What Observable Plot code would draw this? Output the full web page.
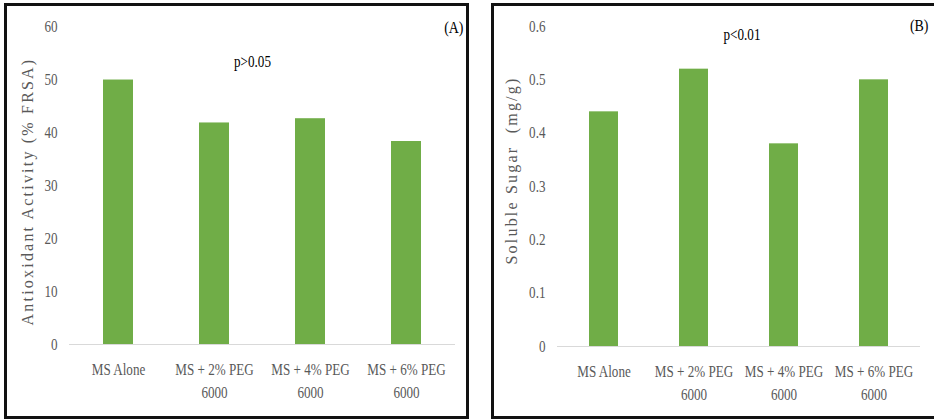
<!DOCTYPE html>
<html>
<head>
<meta charset="utf-8">
<script src="https://cdn.jsdelivr.net/npm/d3@7"></script>
<script src="https://cdn.jsdelivr.net/npm/@observablehq/plot@0.6"></script>
<style>
  html, body { margin: 0; padding: 0; background: #fff; }
  #wrap { position: relative; width: 934px; height: 419px; overflow: hidden; background: #fff; }
  .panel { position: absolute; border: 3px solid #111; box-sizing: content-box; }
  .panel svg { display: block; }
  .panel svg text { font-family: "Liberation Serif", "Times New Roman", serif; }
</style>
</head>
<body>
<div id="wrap">
  <div class="panel" id="pa" style="left:4px; top:3px; width:459px; height:410px;"></div>
  <div class="panel" id="pb" style="left:491px; top:3px; width:445px; height:410px;"></div>
</div>
<script>
const categories = ["MS Alone", "MS + 2% PEG 6000", "MS + 4% PEG 6000", "MS + 6% PEG 6000"];
const categoryLabels = ["MS Alone", "MS + 2% PEG\n6000", "MS + 4% PEG\n6000", "MS + 6% PEG\n6000"];
const antioxidant = [49.9, 41.8, 42.6, 38.3];
const solubleSugar = [0.44, 0.52, 0.38, 0.50];
const ticksA = [0, 10, 20, 30, 40, 50, 60];
const ticksB = [0, 0.1, 0.2, 0.3, 0.4, 0.5, 0.6];
const tickLabelsA = ["0", "10", "20", "30", "40", "50", "60"];
const tickLabelsB = ["0", "0.1", "0.2", "0.3", "0.4", "0.5", "0.6"];
const labelA = "Antioxidant Activity (% FRSA)";
const labelB = "Soluble Sugar  (mg/g)";
const pA = "p>0.05";
const pB = "p<0.01";
const tagA = "(A)";
const tagB = "(B)";

const GREEN = "#70ad47";
const GREY = "#595959";
const FONT = "'Liberation Serif', 'Times New Roman', serif";
const SQUEEZE = 0.82;

function isNum(v) { return v != null && v !== "" && !isNaN(+v); }

function panel(o) {
  const data = categories.map((c, i) => ({c, v: o.values[i]}));
  const fmtX = c => categoryLabels[categories.indexOf(c)];
  const fmtY = t => o.tickLabels[o.ticks.indexOf(t)];
  const chart = Plot.plot({
    width: o.width,
    height: 410,
    marginLeft: o.ml,
    marginRight: o.mr,
    marginTop: 20,
    marginBottom: o.mb,
    style: {fontFamily: FONT, fontSize: "16px", color: GREY, background: "transparent"},
    x: {type: "band", domain: categories, paddingInner: o.pi, paddingOuter: o.pi / 2, align: 0.5},
    y: {domain: o.domain, nice: false},
    marks: [
      Plot.barY(data, {x: "c", y: "v", fill: GREEN}),
      Plot.ruleY([0], {stroke: "#d9d9d9", strokeWidth: 1}),
      Plot.axisY({ticks: o.ticks, tickFormat: fmtY, tickSize: 0, tickPadding: 12, label: null, fill: GREY, fontSize: 16, fontFamily: FONT}),
      Plot.axisX({tickSize: 0, tickPadding: 14, label: null, tickFormat: fmtX, fill: GREY, fontSize: 16, fontFamily: FONT, lineHeight: 1.45, lineAnchor: "top"}),
      Plot.text([o.ylabel], {frameAnchor: "left", dx: o.ldx, dy: o.ldy, rotate: -90, textAnchor: "middle", lineAnchor: "middle", fill: GREY, fontSize: 16, fontFamily: FONT}),
      Plot.text([o.p], {frameAnchor: "top", dx: o.pdx, dy: o.pdy, textAnchor: "middle", lineAnchor: "middle", fill: "#000", fontSize: 16, fontFamily: FONT}),
      Plot.text([o.tag], {frameAnchor: "top-right", dx: 8, dy: o.tdy, textAnchor: "end", lineAnchor: "middle", fill: "#000", fontSize: 17, fontFamily: FONT})
    ]
  });
  const svg = d3.select(chart);
  svg.selectAll("text").style("font-family", FONT);
  svg.selectAll("text").each(function() {
    if (this.textContent === o.ylabel) {
      this.setAttribute("letter-spacing", "2.2px");
      return;
    }
    // horizontally condensed glyphs, as in the reference
    let t = this.getAttribute("transform") || "";
    const x = this.getAttribute("x"), y = this.getAttribute("y");
    let tx = 0, ty = 0;
    if (isNum(x)) { tx = +x; this.removeAttribute("x"); }
    if (isNum(y)) { ty = +y; this.removeAttribute("y"); }
    if (tx || ty) t += ` translate(${tx},${ty})`;
    this.setAttribute("transform", `${t} scale(${SQUEEZE},1)`.trim());
  });
  return chart;
}

document.getElementById("pa").appendChild(panel({
  values: antioxidant, domain: [0, 60], ticks: ticksA, tickLabels: tickLabelsA, width: 459, ml: 62, mr: 11, mb: 72, pi: 0.69,
  ylabel: labelA, ldx: -42, ldy: 6, p: pA, pdx: -10, pdy: 35, tag: tagA, tdy: 1
}));
document.getElementById("pb").appendChild(panel({
  values: solubleSugar, domain: [0, 0.6], ticks: ticksB, tickLabels: tickLabelsB, width: 440, ml: 63, mr: 14, mb: 70, pi: 0.68,
  ylabel: labelB, ldx: -46, ldy: -16, p: pB, pdx: 3, pdy: 8, tag: tagB, tdy: -1
}));
</script>
</body>
</html>
